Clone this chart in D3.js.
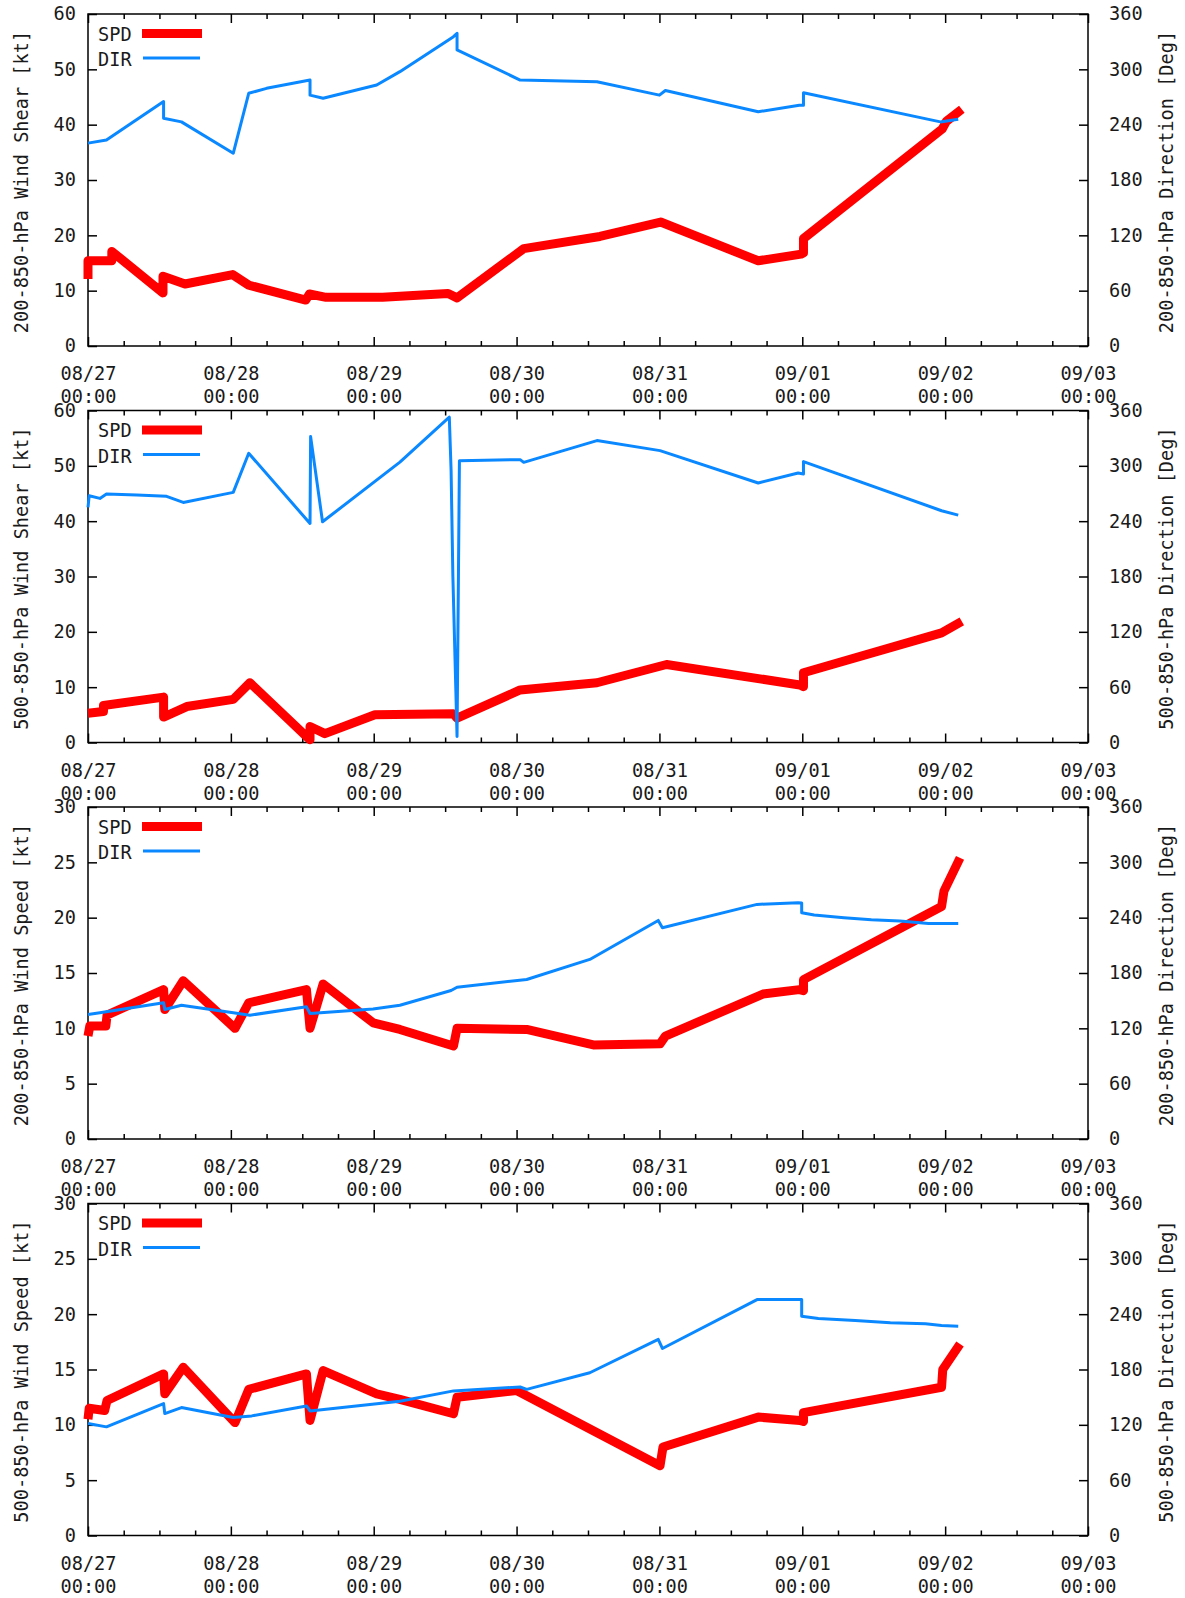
<!DOCTYPE html>
<html><head><meta charset="utf-8">
<script src="https://cdn.jsdelivr.net/npm/d3@7"></script>
<style>
html,body{margin:0;padding:0;background:#fff;}
svg{display:block;}
text{font-family:"DejaVu Sans Mono",monospace;font-size:18.6px;fill:#1a1a1a;}
</style></head><body>
<svg id="chart" width="1185" height="1598"></svg>
<script>
// ---- tick labels ----
const X_DATE_LABELS = ["08/27","08/28","08/29","08/30","08/31","09/01","09/02","09/03"];
const X_TIME_LABEL = "00:00";
const Y1_TICKS_SHEAR = [0,10,20,30,40,50,60];
const Y1_TICKS_SPEED = [0,5,10,15,20,25,30];
const Y2_TICKS = [0,60,120,180,240,300,360];

// ---- data: [hours since 08/27 00:00, value] ----
const spd_200_850_shear = [[0,12.1],[0,15.4],[4,15.4],[4,17.1],[12.6,9.6],[12.6,12.6],[16.3,11.2],[24.3,12.9],[27,11.0],[36.6,8.3],[37.2,9.4],[40,8.8],[49.5,8.8],[60.5,9.5],[62,8.7],[73.2,17.6],[86,19.8],[96.2,22.4],[112.6,15.4],[119.8,16.6],[120.2,16.8],[120.2,19.4],[143.5,39.2],[144.2,40.6],[146.8,42.8]];
const dir_200_850_shear = [[0,220],[3.1,223.4],[12.7,265],[12.7,247],[15.7,243],[24.4,209],[27,274],[30,279.4],[37.3,288.4],[37.3,272],[39.5,268.6],[48.5,283],[52.4,297.5],[61.4,335.4],[62,339],[62,321],[72.6,288.4],[85.5,286.6],[96,272],[97,277],[112.6,254],[119.5,261],[120.2,261],[120.2,274.6],[143.2,243],[146.2,245.8]];

const spd_500_850_shear = [[0,5.3],[2.6,5.6],[2.6,6.7],[12.7,8.2],[12.7,4.6],[16.6,6.5],[24.4,7.8],[27.2,10.8],[36.7,1.1],[37.3,0.5],[37.3,2.9],[39.8,1.6],[48.2,5.0],[61.4,5.2],[62,4.4],[72.6,9.5],[85.5,10.8],[97.2,14.1],[119.6,10.4],[120.2,10.1],[120.2,12.6],[143.4,19.8],[146.8,21.9]];
const dir_500_850_shear = [[0,255],[0.2,267.6],[2,264.7],[3.1,269.4],[8.2,268.3],[13.2,266.9],[16,260.3],[24.4,271.2],[27,313.6],[37.3,237.5],[37.4,331.7],[39.4,239.3],[52.4,304],[60.7,352.8],[61.0,295],[61.3,180],[62,6.5],[62.4,305.6],[72.6,306.7],[73.2,303.8],[85.5,327.4],[96.1,316.5],[112.6,281.4],[119.3,292.3],[120.2,291.2],[120.2,304.6],[143.4,251.3],[146.2,246.6]];

const spd_200_850_wind = [[0,9.3],[0.3,10.2],[3,10.2],[3.2,11.2],[12.7,13.5],[12.9,11.7],[16,14.3],[24.7,10.0],[27,12.3],[36.7,13.5],[37.3,10.0],[39.5,14.0],[47.9,10.5],[52.4,9.9],[61.4,8.4],[62,10.0],[73.7,9.9],[84.9,8.5],[96.1,8.6],[97,9.3],[113.4,13.1],[119.5,13.5],[120.2,13.4],[120.2,14.4],[143.4,21.0],[143.8,22.4],[146.5,25.4]];
const dir_200_850_wind = [[0,135],[2,136.8],[12.7,147.7],[12.9,140.4],[15.7,145],[24.4,136.8],[27.2,134.2],[36.7,143.3],[37.3,136],[47.9,141],[52.4,145],[61,161],[62,164.6],[73.7,173],[84.3,194.7],[95.8,237],[96.5,229],[112.4,254.4],[119.3,256.2],[119.9,256],[119.9,245.4],[122,242.8],[127,240],[131.6,237.8],[136.4,236.3],[141.2,233.8],[146.2,233.8]];

const spd_500_850_wind = [[0,10.5],[0.2,11.5],[2.8,11.3],[3.2,12.2],[12.7,14.6],[12.9,12.8],[16,15.2],[24.7,10.2],[27,13.2],[36.7,14.6],[37.3,10.4],[39.5,14.9],[48.5,12.8],[52.4,12.3],[61.4,11.0],[62,12.5],[72,13.1],[96.1,6.3],[96.6,8.0],[112.6,10.7],[119.6,10.4],[120.2,10.3],[120.2,11.1],[143.4,13.4],[143.6,15.0],[146.5,17.3]];
const dir_500_850_wind = [[0,121.4],[3.1,117.8],[12.7,143],[12.9,132.2],[15.7,138.7],[24.4,127.9],[27.5,129.7],[36.7,140.5],[37.3,135.1],[52.4,145.5],[61.4,156.8],[72.6,161],[73.7,158.5],[84.3,176.5],[95.8,212.6],[96.5,202.8],[112.4,255.8],[119.3,255.8],[119.9,255.8],[119.9,237.8],[122.7,235.3],[128.9,233.1],[134.8,230.6],[140.7,229.5],[143.4,227.7],[146.2,227]];

const panels = [
  {spd: spd_200_850_shear, dir: dir_200_850_shear, yMax: 60, yTicks: Y1_TICKS_SHEAR,
   leftTitle: "200-850-hPa Wind Shear [kt]", rightTitle: "200-850-hPa Direction [Deg]"},
  {spd: spd_500_850_shear, dir: dir_500_850_shear, yMax: 60, yTicks: Y1_TICKS_SHEAR,
   leftTitle: "500-850-hPa Wind Shear [kt]", rightTitle: "500-850-hPa Direction [Deg]"},
  {spd: spd_200_850_wind, dir: dir_200_850_wind, yMax: 30, yTicks: Y1_TICKS_SPEED,
   leftTitle: "200-850-hPa Wind Speed [kt]", rightTitle: "200-850-hPa Direction [Deg]"},
  {spd: spd_500_850_wind, dir: dir_500_850_wind, yMax: 30, yTicks: Y1_TICKS_SPEED,
   leftTitle: "500-850-hPa Wind Speed [kt]", rightTitle: "500-850-hPa Direction [Deg]"}
];

const RED = "#ff0000", BLUE = "#0a88ff";
const LEFT = 88, RIGHT = 1088, PANEL_H = 332, FIRST_TOP = 14, PANEL_STEP = 396.5;
const svg = d3.select("#chart");
const x = d3.scaleLinear().domain([0, 168]).range([LEFT, RIGHT]);
const majorHours = d3.range(0, 169, 24);
const minorHours = d3.range(0, 169, 6).filter(h => h % 24 !== 0);

function styleAxis(sel) {
  sel.select(".domain").remove();
  sel.attr("color", "#000");
  sel.selectAll(".tick line").attr("stroke-width", 1.5);
}

panels.forEach((p, i) => {
  const top = FIRST_TOP + i * PANEL_STEP;
  const g = svg.append("g").attr("transform", `translate(0,${top})`);
  const y1 = d3.scaleLinear().domain([0, p.yMax]).range([PANEL_H, 0]);
  const y2 = d3.scaleLinear().domain([0, 360]).range([PANEL_H, 0]);

  // bottom axis (major with labels)
  const bx = g.append("g").attr("transform", `translate(0,${PANEL_H})`)
    .call(d3.axisBottom(x).tickValues(majorHours).tickSize(-9).tickPadding(21)
      .tickFormat((d, k) => X_DATE_LABELS[k]));
  styleAxis(bx);
  bx.selectAll(".tick").append("text").attr("y", 57).attr("text-anchor", "middle").text(X_TIME_LABEL);
  const bxm = g.append("g").attr("transform", `translate(0,${PANEL_H})`)
    .call(d3.axisBottom(x).tickValues(minorHours).tickSize(-5).tickFormat(""));
  styleAxis(bxm);
  // top axis
  const tx = g.append("g").call(d3.axisTop(x).tickValues(majorHours).tickSize(-9).tickFormat(""));
  styleAxis(tx);
  const txm = g.append("g").call(d3.axisTop(x).tickValues(minorHours).tickSize(-5).tickFormat(""));
  styleAxis(txm);
  // left axis
  const ly = g.append("g").attr("transform", `translate(${LEFT},0)`)
    .call(d3.axisLeft(y1).tickValues(p.yTicks).tickSize(-9).tickPadding(12));
  styleAxis(ly);
  // right axis
  const ry = g.append("g").attr("transform", `translate(${RIGHT},0)`)
    .call(d3.axisRight(y2).tickValues(Y2_TICKS).tickSize(-9).tickPadding(21));
  styleAxis(ry);

  // frame
  g.append("rect").attr("x", LEFT).attr("y", 0).attr("width", RIGHT - LEFT).attr("height", PANEL_H)
    .attr("fill", "none").attr("stroke", "#000").attr("stroke-width", 1.5);

  // axis titles
  g.append("text").attr("transform", `translate(28,${PANEL_H / 2 + 2}) rotate(-90)`)
    .attr("text-anchor", "middle").text(p.leftTitle);
  g.append("text").attr("transform", `translate(1173,${PANEL_H / 2 + 2}) rotate(-90)`)
    .attr("text-anchor", "middle").text(p.rightTitle);

  // series
  const lineSpd = d3.line().x(d => x(d[0])).y(d => y1(d[1]));
  const lineDir = d3.line().x(d => x(d[0])).y(d => y2(d[1]));
  g.append("path").datum(p.spd).attr("d", lineSpd).attr("fill", "none")
    .attr("stroke", RED).attr("stroke-width", 9).attr("stroke-linejoin", "round");
  g.append("path").datum(p.dir).attr("d", lineDir).attr("fill", "none")
    .attr("stroke", BLUE).attr("stroke-width", 3).attr("stroke-linejoin", "round");

  // legend
  g.append("text").attr("x", 98).attr("y", 26.5).text("SPD");
  g.append("line").attr("x1", 142).attr("x2", 202).attr("y1", 19.5).attr("y2", 19.5)
    .attr("stroke", RED).attr("stroke-width", 9);
  g.append("text").attr("x", 98).attr("y", 52).text("DIR");
  g.append("line").attr("x1", 143).attr("x2", 200).attr("y1", 44).attr("y2", 44)
    .attr("stroke", BLUE).attr("stroke-width", 3);
});
</script>
</body></html>
